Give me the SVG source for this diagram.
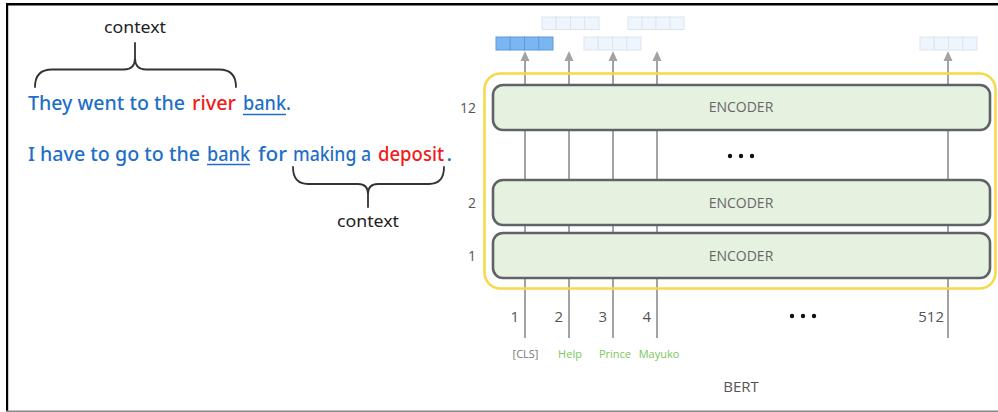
<svg xmlns="http://www.w3.org/2000/svg" width="998" height="412" viewBox="0 0 998 412">
  <defs>
    <style>
      .sent { font-family: "Comic Sans MS", "Noto Sans", sans-serif; font-size: 20.5px; font-weight: 500; fill: #1f6fc8; }
      .red { fill: #f21b1b; }
      .ctx { font-family: "Comic Sans MS", "Noto Sans", sans-serif; font-size: 16.5px; fill: #222; }
      .brace { fill: none; stroke: #333; stroke-width: 1.8; stroke-linecap: round; }
      .uline { stroke: #1f6fc8; stroke-width: 1.5; }
      .enc rect { fill: #e6f2e0; stroke: #5f6368; stroke-width: 2.6; }
      .enc text { font-family: "Open Sans", "Noto Sans", sans-serif; font-size: 14px; fill: #666; text-anchor: middle; }
      .lbl { font-family: "Open Sans", "Noto Sans", sans-serif; font-size: 15px; fill: #555; }
      .tok { font-family: "Open Sans", "Noto Sans", sans-serif; font-size: 11px; text-anchor: middle; }
      .col { stroke: #a3a3a3; stroke-width: 2; }
      .head { fill: #a3a3a3; }
      .vec rect { fill: #eef5fd; stroke: #dbe5f1; stroke-width: 1; }
      .vec.hot rect { fill: #7ab6f2; stroke: #5f9bd8; }
      .dot { fill: #111; }
    </style>
  </defs>

  <rect width="998" height="412" fill="#fff"/>

  <!-- frame -->
  <rect x="6" y="3" width="992" height="2.5" fill="#000"/>
  <rect x="6" y="3" width="2.2" height="408" fill="#000"/>
  <rect x="6" y="410.5" width="992" height="1.5" fill="#888"/>

  <!-- left: example sentences -->
  <g id="sentence-1">
    <text class="sent" y="110"><tspan x="28" textLength="157" lengthAdjust="spacingAndGlyphs">They went to the</tspan><tspan class="red" x="192" textLength="44" lengthAdjust="spacingAndGlyphs">river</tspan><tspan x="243" textLength="48" lengthAdjust="spacingAndGlyphs">bank.</tspan></text>
    <line class="uline" x1="243" y1="114.5" x2="286" y2="114.5"/>
  </g>
  <g id="sentence-2">
    <text class="sent" y="161"><tspan x="28" textLength="172" lengthAdjust="spacingAndGlyphs">I have to go to the</tspan><tspan x="207" textLength="43" lengthAdjust="spacingAndGlyphs">bank</tspan><tspan x="258" textLength="29" lengthAdjust="spacingAndGlyphs">for</tspan><tspan x="293" textLength="78" lengthAdjust="spacingAndGlyphs">making a</tspan><tspan class="red" x="378" font-size="19.5" textLength="66" lengthAdjust="spacingAndGlyphs">deposit</tspan><tspan x="446.5">.</tspan></text>
    <line class="uline" x1="207" y1="164.5" x2="250" y2="164.5"/>
  </g>
  <g id="context-top">
    <path class="brace" d="M35,87 Q35,69.5 52,69.5 L124,69.5 Q135,69.5 135,58 L135,43 M236,87 Q236,69.5 219,69.5 L146,69.5 Q135,69.5 135,58"/>
    <text class="ctx" x="135" y="33" text-anchor="middle" textLength="62" lengthAdjust="spacingAndGlyphs">context</text>
  </g>
  <g id="context-bottom">
    <path class="brace" d="M293,167 Q293,184 308,184 L358,184 Q368,184 368,194 L368,207 M444,167 Q444,184 429,184 L378,184 Q368,184 368,194"/>
    <text class="ctx" x="368" y="227" text-anchor="middle" textLength="62" lengthAdjust="spacingAndGlyphs">context</text>
  </g>

  <!-- right: BERT stack -->
  <g id="connectors">
    <line class="col" x1="525" y1="58" x2="525" y2="338"/>
    <line class="col" x1="569" y1="58" x2="569" y2="338"/>
    <line class="col" x1="613" y1="58" x2="613" y2="338"/>
    <line class="col" x1="657" y1="58" x2="657" y2="338"/>
    <line class="col" x1="948" y1="58" x2="948" y2="338"/>
    <path class="head" d="M525,51 L520.5,61 L529.5,61 Z"/>
    <path class="head" d="M569,51 L564.5,61 L573.5,61 Z"/>
    <path class="head" d="M613,51 L608.5,61 L617.5,61 Z"/>
    <path class="head" d="M657,51 L652.5,61 L661.5,61 Z"/>
    <path class="head" d="M948,51 L943.5,61 L952.5,61 Z"/>
  </g>

  <g id="bert-frame">
    <rect x="484.5" y="73.5" width="511" height="215" rx="16" fill="none" stroke="#f8d74a" stroke-width="2.5"/>
  </g>

  <g id="encoder-12" class="enc">
    <rect x="493" y="85" width="497" height="45" rx="10"/>
    <text x="741" y="112">ENCODER</text>
  </g>
  <g id="encoder-2" class="enc">
    <rect x="493" y="180" width="497" height="45" rx="10"/>
    <text x="741" y="208">ENCODER</text>
  </g>
  <g id="encoder-1" class="enc">
    <rect x="493" y="233" width="497" height="45" rx="10"/>
    <text x="741" y="261">ENCODER</text>
  </g>

  <g id="layer-labels" class="lbl" text-anchor="end">
    <text x="476" y="113" font-size="14">12</text>
    <text x="476" y="208" font-size="14">2</text>
    <text x="476" y="261" font-size="14">1</text>
  </g>

  <g id="ellipsis-layers">
    <circle class="dot" cx="730" cy="156" r="2.2"/>
    <circle class="dot" cx="741" cy="156" r="2.2"/>
    <circle class="dot" cx="752" cy="156" r="2.2"/>
  </g>

  <g id="positions" class="lbl" text-anchor="end">
    <text x="519" y="322">1</text>
    <text x="563" y="322">2</text>
    <text x="607" y="322">3</text>
    <text x="651" y="322">4</text>
    <text x="944" y="322">512</text>
  </g>
  <g id="ellipsis-positions">
    <circle class="dot" cx="792" cy="316" r="2.2"/>
    <circle class="dot" cx="803" cy="316" r="2.2"/>
    <circle class="dot" cx="814" cy="316" r="2.2"/>
  </g>

  <g id="tokens" class="tok">
    <text x="525.5" y="358" fill="#777">[CLS]</text>
    <text x="570" y="358" fill="#7cc65a">Help</text>
    <text x="615" y="358" fill="#7cc65a">Prince</text>
    <text x="659" y="358" fill="#7cc65a">Mayuko</text>
  </g>

  <g id="title">
    <text x="741" y="392" class="lbl" font-size="14.5" text-anchor="middle">BERT</text>
  </g>

  <!-- output vectors -->
  <g id="vec-cls" class="vec hot">
    <rect x="496" y="37" width="14.25" height="13"/>
    <rect x="510.25" y="37" width="14.25" height="13"/>
    <rect x="524.5" y="37" width="14.25" height="13"/>
    <rect x="538.75" y="37" width="14.25" height="13"/>
  </g>
  <g id="vec-help" class="vec">
    <rect x="542" y="17" width="14.25" height="12.5"/>
    <rect x="556.25" y="17" width="14.25" height="12.5"/>
    <rect x="570.5" y="17" width="14.25" height="12.5"/>
    <rect x="584.75" y="17" width="14.25" height="12.5"/>
  </g>
  <g id="vec-prince" class="vec">
    <rect x="584" y="37" width="14.25" height="13"/>
    <rect x="598.25" y="37" width="14.25" height="13"/>
    <rect x="612.5" y="37" width="14.25" height="13"/>
    <rect x="626.75" y="37" width="14.25" height="13"/>
  </g>
  <g id="vec-mayuko" class="vec">
    <rect x="628" y="17" width="14" height="12.5"/>
    <rect x="642" y="17" width="14" height="12.5"/>
    <rect x="656" y="17" width="14" height="12.5"/>
    <rect x="670" y="17" width="14" height="12.5"/>
  </g>
  <g id="vec-512" class="vec">
    <rect x="920" y="37" width="14.25" height="13"/>
    <rect x="934.25" y="37" width="14.25" height="13"/>
    <rect x="948.5" y="37" width="14.25" height="13"/>
    <rect x="962.75" y="37" width="14.25" height="13"/>
  </g>
</svg>
